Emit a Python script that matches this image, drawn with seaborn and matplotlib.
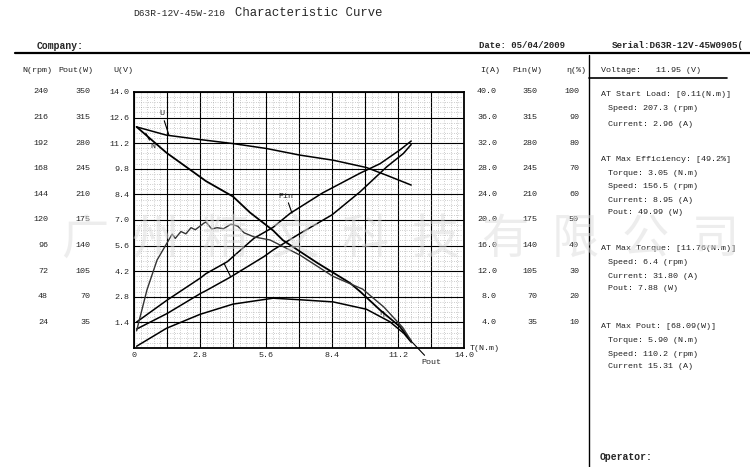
import numpy as np
import matplotlib.pyplot as plt
import matplotlib.transforms as mtrans
from matplotlib.lines import Line2D
from matplotlib.ticker import MultipleLocator
import seaborn as sns

sns.set_theme(style='white')
plt.rcParams['font.family'] = ['Liberation Mono', 'DejaVu Sans']

# readings, x = torque T (N.m)
u_torque = [0.11, 1.38, 2.8, 4.2, 5.62, 7.03, 8.45, 9.86, 10.71, 11.76]
u_volt = [12.09, 11.64, 11.40, 11.18, 10.91, 10.55, 10.27, 9.87, 9.45, 8.91]

n_torque = [0.11, 0.7, 1.38, 2.8, 3.05, 4.2, 4.92, 5.9, 6.32, 7.76, 9.16, 9.59, 10.44, 11.28, 11.76]
n_speed = [207.3, 196, 183, 160.5, 156.5, 142, 127, 110.2, 101, 80, 61, 53, 35.6, 20, 6.4]

pout_torque = [0.11, 1.38, 2.8, 4.2, 5.9, 7.03, 8.45, 9.86, 10.85, 11.45, 11.76]
pout_w = [2.4, 27, 46, 60, 68.09, 66, 63, 53, 36, 20, 7.88]

pin_torque = [0.11, 1.41, 2.83, 3.05, 3.96, 5.09, 5.9, 6.62, 8.0, 9.59, 10.44, 11.29, 11.76]
pin_w = [35.5, 65.6, 96, 101.6, 118, 150, 165, 184, 212, 239, 252, 271, 283]

i_torque = [0.11, 1.41, 2.83, 3.05, 4.1, 5.52, 5.9, 7.0, 8.4, 9.16, 9.59, 10.72, 11.43, 11.76]
i_amp = [2.96, 5.4, 8.54, 8.95, 11.1, 14.3, 15.31, 17.8, 20.8, 23.1, 24.4, 28.3, 30.4, 31.8]

eff_torque = [0.11, 0.55, 0.98, 1.40, 1.62, 1.75, 1.99, 2.2, 2.42, 2.6, 2.97, 3.05, 3.3, 3.52,
              3.8, 4.12, 4.4, 4.67, 5.09, 5.77, 7.04, 8.44, 9.7, 10.6, 11.4, 11.76]
eff_pct = [6.7, 22.7, 34.4, 41, 44.5, 42.8, 45.5, 44.6, 47, 46.2, 48.8, 49.2, 46.5, 47,
           46.6, 48.4, 47.6, 45, 43.4, 42.2, 36.3, 28, 23, 16, 8, 2.8]

# axis tick labels
torque_ticks = ['0', '2.8', '5.6', '8.4', '11.2', '14.0']
u_labels = ['1.4', '2.8', '4.2', '5.6', '7.0', '8.4', '9.8', '11.2', '12.6', '14.0']
n_labels = ['24', '48', '72', '96', '120', '144', '168', '192', '216', '240']
pout_labels = ['35', '70', '105', '140', '175', '210', '245', '280', '315', '350']
i_labels = ['4.0', '8.0', '12.0', '16.0', '20.0', '24.0', '28.0', '32.0', '36.0', '40.0']
pin_labels = pout_labels
eff_labels = ['10', '20', '30', '40', '50', '60', '70', '80', '90', '100']

W, H = 750, 467
fig = plt.figure(figsize=(7.5, 4.67), dpi=100)
fig.patch.set_facecolor('white')


def fx(x):
    return x / W


def fy(y):
    return 1 - y / H


ax = fig.add_axes([fx(134), fy(348), 330 / W, 256 / H])
ax.set_facecolor('white')
ax.set_xlim(0, 14)
ax.set_ylim(0, 14)
ax.xaxis.set_major_locator(MultipleLocator(1.4))
ax.yaxis.set_major_locator(MultipleLocator(1.4))
ax.xaxis.set_minor_locator(MultipleLocator(0.28))
ax.yaxis.set_minor_locator(MultipleLocator(0.28))
ax.grid(which='major', color='black', lw=0.8)
ax.grid(which='minor', color='#8a8a8a', lw=0.45, linestyle=(0, (1, 2.6)))
ax.set_axisbelow(True)
for s in ax.spines.values():
    s.set_color('black')
    s.set_linewidth(1.3)
ax.tick_params(which='both', length=0, labelsize=6, pad=3)
xt = np.arange(0, 14.01, 1.4)
ax.set_xticks(xt)
ax.set_xticklabels([torque_ticks[i // 2] if i % 2 == 0 else '' for i in range(len(xt))])
ax.set_yticks(xt)
ax.set_yticklabels([''] + u_labels)

sns.lineplot(x=u_torque, y=u_volt, ax=ax, color='black', lw=1.1)


def twin(lim):
    t = ax.twinx()
    t.set_ylim(0, lim)
    t.axis('off')
    return t


ax_n = twin(240)
ax_pout = twin(350)
ax_i = twin(40)
ax_pin = twin(350)
ax_eff = twin(100)

sns.lineplot(x=n_torque, y=n_speed, ax=ax_n, color='black', lw=1.3)
sns.lineplot(x=pout_torque, y=pout_w, ax=ax_pout, color='black', lw=1.1)
sns.lineplot(x=i_torque, y=i_amp, ax=ax_i, color='black', lw=1.1)
sns.lineplot(x=pin_torque, y=pin_w, ax=ax_pin, color='black', lw=1.1)
sns.lineplot(x=eff_torque, y=eff_pct, ax=ax_eff, color='#333333', lw=1.0)


def column(t, labels, step, xpix, header, hx):
    tr = mtrans.blended_transform_factory(fig.transFigure, t.transData)
    for k, lab in enumerate(labels):
        t.text(fx(xpix), step * (k + 1), lab, transform=tr, ha='right', va='center',
               fontsize=6, color='#222222')
    fig.text(fx(hx), fy(71), header, ha='center', va='center', fontsize=6, color='#222222')


column(ax_n, n_labels, 24, 48, 'N(rpm)', 37)
column(ax_pout, pout_labels, 35, 90, 'Pout(W)', 76)
fig.text(fx(123), fy(71), 'U(V)', ha='center', va='center', fontsize=6, color='#222222')
column(ax_i, i_labels, 4, 497, 'I(A)', 490)
column(ax_pin, pin_labels, 35, 537, 'Pin(W)', 527)
column(ax_eff, eff_labels, 10, 579, 'η(%)', 576)
fig.text(fx(470), fy(349), 'T(N.m)', ha='left', va='center', fontsize=6, color='#222222')

# curve labels
lp = dict(arrowstyle='-', color='black', lw=0.8, shrinkA=0, shrinkB=0)
ax.annotate('U', xy=(1.48, 11.65), xytext=(1.19, 12.8), fontsize=6, ha='center', va='center', arrowprops=lp)
ax.annotate('N', xy=(0.5, 11.75), xytext=(0.81, 11.0), fontsize=6, ha='center', va='center', arrowprops=lp)
ax.annotate('Pin', xy=(6.70, 7.38), xytext=(6.45, 8.31), fontsize=6, ha='center', va='center', arrowprops=lp)
ax.annotate('', xy=(4.10, 3.90), xytext=(3.82, 4.63), arrowprops=lp)
ax.text(10.5, 1.9, 'η', fontsize=6, ha='center', va='center')
ax.annotate('Pout', xy=(11.71, 0.44), xytext=(12.6, -0.77), fontsize=6, ha='center', va='center',
            arrowprops=lp, annotation_clip=False)

# header
fig.text(fx(225), fy(13), 'D63R-12V-45W-210', ha='right', va='center', fontsize=6.8)
fig.text(fx(235), fy(13), 'Characteristic Curve', ha='left', va='center', fontsize=8.8)
fig.text(fx(37), fy(46), 'Company:', ha='left', va='center', fontsize=7, weight='bold')
fig.text(fx(479), fy(45), 'Date: 05/04/2009', ha='left', va='center', fontsize=6.5, weight='bold')
fig.text(fx(612), fy(45), 'Serial:D63R-12V-45W0905(', ha='left', va='center', fontsize=6.7, weight='bold')
fig.add_artist(Line2D([fx(15), fx(750)], [fy(53), fy(53)], color='black', lw=1.6))
fig.add_artist(Line2D([fx(589), fx(589)], [fy(55), fy(467)], color='black', lw=1.0))
fig.add_artist(Line2D([fx(589), fx(727)], [fy(78), fy(78)], color='black', lw=1.2))

# info panel
panel = [
    (601, 71, 'Voltage:   11.95 (V)'),
    (601, 94, 'AT Start Load: [0.11(N.m)]'),
    (608, 109, 'Speed: 207.3 (rpm)'),
    (608, 124, 'Current: 2.96 (A)'),
    (601, 160, 'AT Max Efficiency: [49.2%]'),
    (608, 174, 'Torque: 3.05 (N.m)'),
    (608, 187, 'Speed: 156.5 (rpm)'),
    (608, 200, 'Current: 8.95 (A)'),
    (608, 213, 'Pout: 49.99 (W)'),
    (601, 249, 'AT Max Torque: [11.76(N.m)]'),
    (608, 263, 'Speed: 6.4 (rpm)'),
    (608, 276, 'Current: 31.80 (A)'),
    (608, 289, 'Pout: 7.88 (W)'),
    (601, 327, 'AT Max Pout: [68.09(W)]'),
    (608, 341, 'Torque: 5.90 (N.m)'),
    (608, 354, 'Speed: 110.2 (rpm)'),
    (608, 367, 'Current 15.31 (A)'),
]
for x, y, s in panel:
    fig.text(fx(x), fy(y), s, ha='left', va='center', fontsize=6, color='#222222')
fig.text(fx(600), fy(457), 'Operator:', ha='left', va='center', fontsize=7, weight='bold')

# faint watermark
for k, ch in enumerate('广州精文科技有限公司'):
    fig.text(fx(85 + 70 * k), fy(240), ch, ha='center', va='center', fontsize=34,
             family=['Noto Sans CJK SC'], color='#dcdcdc', alpha=0.5, zorder=5)

fig.savefig('out.png', dpi=100, facecolor='white')
